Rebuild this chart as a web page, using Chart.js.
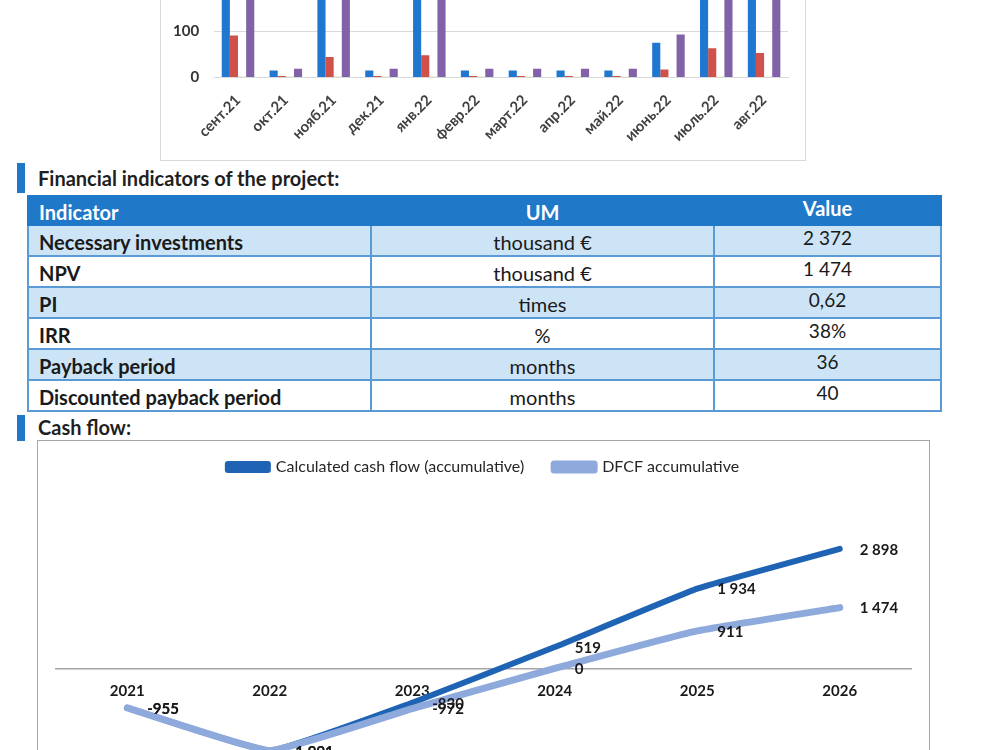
<!DOCTYPE html>
<html><head><meta charset="utf-8">
<script src="https://cdn.jsdelivr.net/npm/chart.js@4.4.1/dist/chart.umd.min.js"></script>
<style>
html,body{margin:0;padding:0;background:#fff;}
body{width:1000px;height:750px;overflow:hidden;position:relative;font-family:Lato,"Open Sans",sans-serif;color:#1a1a1a;}
#barBox{position:absolute;left:160px;top:-360px;width:644px;height:519px;border:1px solid #d9d9d9;background:#fff;}
#barWrap{position:absolute;left:-7px;width:651px;bottom:0;height:476.5px;}
.mark{position:absolute;left:17px;width:8px;background:#1f78c8;}
.head{position:absolute;left:38px;font-weight:700;font-size:20px;color:#1f1f1f;line-height:24px;}
table{position:absolute;left:27px;top:195px;width:913px;border-collapse:collapse;table-layout:fixed;font-size:20px;}
td,th{border:2px solid #5b9bd5;height:28px;padding:0 10px;line-height:22px;}
th{background:#1f78c8;color:#fff;font-weight:700;border-color:#1f78c8;height:25px;padding-top:2px;}
tr.l td{background:#cde4f7;}
td.n{font-weight:700;text-align:left;padding-top:3px;height:25px;}
td.u{text-align:center;padding-top:3px;height:25px;}
td.v{text-align:center;vertical-align:top;padding-top:1px;font-size:19px;}
#lineBox{position:absolute;left:37px;top:440px;width:891px;height:400px;border:1px solid #a6a6a6;background:#fff;}
#lineWrap{position:absolute;left:38px;top:429px;width:890px;height:420px;}
</style></head>
<body>
<div id="barBox"><div id="barWrap"><canvas id="bar"></canvas></div></div>

<div class="mark" style="top:163px;height:30px"></div>
<div class="head" style="top:166px">Financial indicators of the project:</div>
<table>
<colgroup><col style="width:343px"><col style="width:343px"><col style="width:227px"></colgroup>
<tr><th style="text-align:left">Indicator</th><th>UM</th><th style="vertical-align:top;padding-top:0px">Value</th></tr>
<tr class="l"><td class="n">Necessary investments</td><td class="u">thousand €</td><td class="v">2 372</td></tr>
<tr><td class="n">NPV</td><td class="u">thousand €</td><td class="v">1 474</td></tr>
<tr class="l"><td class="n">PI</td><td class="u">times</td><td class="v">0,62</td></tr>
<tr><td class="n">IRR</td><td class="u">%</td><td class="v">38%</td></tr>
<tr class="l"><td class="n">Payback period</td><td class="u">months</td><td class="v">36</td></tr>
<tr><td class="n">Discounted payback period</td><td class="u">months</td><td class="v">40</td></tr>
</table>

<div class="mark" style="top:415px;height:26px"></div>
<div class="head" style="top:415px">Cash flow:</div>
<div id="lineBox"></div>
<div id="lineWrap"><canvas id="line"></canvas></div>

<script>
// ---- bar chart data ----
const months = ['сент.21','окт.21','нояб.21','дек.21','янв.22','февр.22','март.22','апр.22','май.22','июнь.22','июль.22','авг.22'];
const seriesBlue   = [400, 15, 195, 15, 210, 15, 15, 15, 15, 75, 280, 240];
const seriesRed    = [91, 3, 44, 3, 48, 3, 3, 3, 3, 17, 63, 53];
const seriesGreen  = [2, 2, 2, 2, 2, 2, 2, 2, 2, 1, 2, 2];
const seriesPurple = [500, 19, 245, 19, 260, 19, 19, 19, 19, 93, 350, 300];

// ---- cash flow data ----
const years = ['2021','2022','2023','2024','2025','2026'];
const cashFlowAccum = [-955, -1991, -830, 519, 1934, 2898];
const dfcfAccum     = [-955, -1991, -972, 0, 911, 1474];

const FONT = 'Lato, "Open Sans", sans-serif';

new Chart(document.getElementById('bar'), {
  type: 'bar',
  data: {
    labels: months,
    datasets: [
      {data: seriesBlue, backgroundColor: '#1f77d0'},
      {data: seriesRed, backgroundColor: '#d0504a'},
      {data: seriesGreen, backgroundColor: '#d9e8c4'},
      {data: seriesPurple, backgroundColor: '#8162a8'}
    ]
  },
  options: {
    animation: false, responsive: true, maintainAspectRatio: false,
    layout: {padding: {left: 4, right: 17, top: 0, bottom: 1.5}},
    datasets: {bar: {categoryPercentage: 0.68, barPercentage: 1}},
    plugins: {legend: {display: false}, tooltip: {enabled: false}},
    scales: {
      x: {
        grid: {display: false, drawTicks: false},
        border: {color: '#d9d9d9'},
        ticks: {minRotation: 45, maxRotation: 45, padding: 14, color: '#404040', font: {family: FONT, size: 15, weight: 'bold'}}
      },
      y: {
        min: 0, max: 800,
        grid: {color: '#d9d9d9', drawTicks: false},
        border: {display: false},
        ticks: {stepSize: 100, padding: 15, color: '#333', font: {family: FONT, size: 15, weight: 'bold'}}
      }
    }
  }
});

function fmt(v) {
  const s = Math.abs(v).toString().replace(/\B(?=(\d{3})+(?!\d))/g, ' ');
  return (v < 0 ? '-' : '') + s;
}

const labelPlugin = {
  id: 'valueLabels',
  afterDatasetsDraw(chart) {
    const ctx = chart.ctx;
    ctx.save();
    ctx.font = 'bold 15px ' + FONT;
    ctx.fillStyle = '#1a1a1a';
    ctx.textAlign = 'left';
    ctx.textBaseline = 'middle';
    chart.data.datasets.forEach((ds, i) => {
      const meta = chart.getDatasetMeta(i);
      meta.data.forEach((pt, j) => {
        ctx.fillText(fmt(ds.data[j]), pt.x + 20, pt.y + 1);
      });
    });
    ctx.restore();
  }
};

new Chart(document.getElementById('line'), {
  type: 'line',
  data: {
    labels: years,
    datasets: [
      {label: 'Calculated cash flow (accumulative)', data: cashFlowAccum, borderColor: '#1f64b4', backgroundColor: '#1f64b4', borderWidth: 6, pointRadius: 0, tension: 0.1, borderCapStyle: 'round', borderJoinStyle: 'round', order: 2},
      {label: 'DFCF accumulative', data: dfcfAccum, borderColor: '#8eaadc', backgroundColor: '#8eaadc', borderWidth: 7, pointRadius: 0, tension: 0.1, borderCapStyle: 'round', borderJoinStyle: 'round', order: 1}
    ]
  },
  options: {
    animation: false, responsive: true, maintainAspectRatio: false,
    layout: {padding: {left: 18, right: 17, top: 0, bottom: 0}},
    plugins: {
      tooltip: {enabled: false},
      legend: {
        position: 'top',
        labels: {
          boxWidth: 40, boxHeight: 6, padding: 30, color: '#262626',
          font: {family: FONT, size: 16},
          sort: (a, b) => a.datasetIndex - b.datasetIndex
        }
      }
    },
    scales: {
      x: {
        offset: true,
        position: {y: 0},
        grid: {display: false, drawTicks: false},
        border: {color: '#a6a6a6', width: 1.5},
        ticks: {padding: 14, color: '#1a1a1a', font: {family: FONT, size: 15, weight: 'bold'}}
      },
      y: {display: false, min: -4372, max: 4444}
    }
  },
  plugins: [labelPlugin]
});
</script>
</body></html>
